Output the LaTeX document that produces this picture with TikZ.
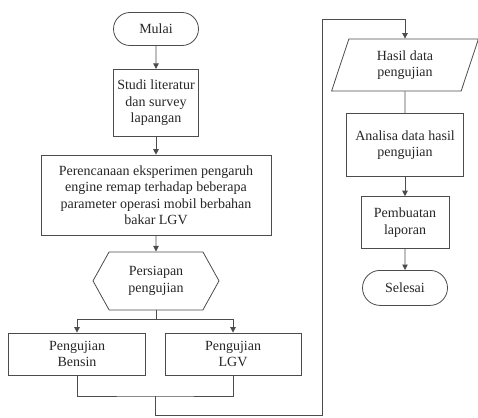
\documentclass[tikz,border=0pt]{standalone}
\usepackage{fontspec}
\setmainfont{Liberation Serif}
\usetikzlibrary{positioning,shapes.misc,shapes.geometric,shapes.symbols,arrows.meta}

\begin{document}
\begin{tikzpicture}[x=1pt, y=1pt,
            font=\fontsize{14}{16.5}\selectfont,
            flowline/.style={draw=black!70, line width=0.8pt},
            arrowline/.style={flowline, -{Triangle[length=5.5pt, width=5.5pt]}},
            termnode/.style={rounded rectangle, draw=black!70, line width=0.8pt, text=black!85, align=center, inner sep=1pt, minimum width=87pt, minimum height=33pt},
            procnode/.style={rectangle, draw=black!70, line width=0.8pt, text=black!85, align=center, inner sep=1pt},
            prepnode/.style={signal, signal to=west and east, signal pointer angle=122, draw=black!70, line width=0.8pt, text=black!85, align=center, inner sep=1pt, minimum width=126pt, minimum height=58pt},
            datanode/.style={trapezium, trapezium left angle=74, trapezium right angle=106, trapezium stretches=true, draw=black!70, line width=0.8pt, text=black!85, align=center, inner sep=1pt, minimum width=147pt, minimum height=52pt},
        ]
            \useasboundingbox (0,0) rectangle (478,-417);

            %Nodes
            \node[termnode](mulai) at (156,-29) {Mulai};
            \node[procnode, minimum width=85pt, minimum height=67pt](studi)[below=23pt of mulai] {Studi literatur\\dan survey\\lapangan};
            \node[procnode, minimum width=230pt, minimum height=80pt](rencana)[below=18pt of studi] {Perencanaan eksperimen pengaruh\\engine remap terhadap beberapa\\parameter operasi mobil berbahan\\bakar LGV};
            \node[prepnode](persiapan)[below=16pt of rencana] {Persiapan\\pengujian};
            \node[procnode, minimum width=137pt, minimum height=42pt](bensin) at (77,-354) {Pengujian\\Bensin};
            \node[procnode, minimum width=136pt, minimum height=42pt](lgv) at (233,-354) {Pengujian\\LGV};

            \node[datanode](hasil) at (405,-65) {Hasil data\\pengujian};
            \node[procnode, minimum width=117pt, minimum height=63pt](analisa)[below=22pt of hasil] {Analisa data hasil\\pengujian};
            \node[procnode, minimum width=88pt, minimum height=52pt](laporan)[below=19pt of analisa] {Pembuatan\\laporan};
            \node[termnode, minimum height=35pt](selesai)[below=21pt of laporan] {Selesai};

            \coordinate (join) at (155,-396);
            \coordinate (loop) at (322,-19);

            %Lines
            \draw[arrowline](mulai) -- (studi);
            \draw[arrowline](studi) -- (rencana);
            \draw[arrowline](rencana) -- (persiapan);
            \draw[arrowline](persiapan.south) -- ++(0,-9) -| (bensin.north);
            \draw[arrowline](persiapan.south) -- ++(0,-9) -| (lgv.north);
            \draw[flowline](bensin.south) |- (join) -| (lgv.south);
            \draw[arrowline](join) -- ++(0,-19) -| (loop) -| (hasil.north);
            \draw[flowline](hasil) -- (analisa);
            \draw[arrowline](analisa) -- (laporan);
            \draw[arrowline](laporan) -- (selesai);
        \end{tikzpicture}
\end{document}
